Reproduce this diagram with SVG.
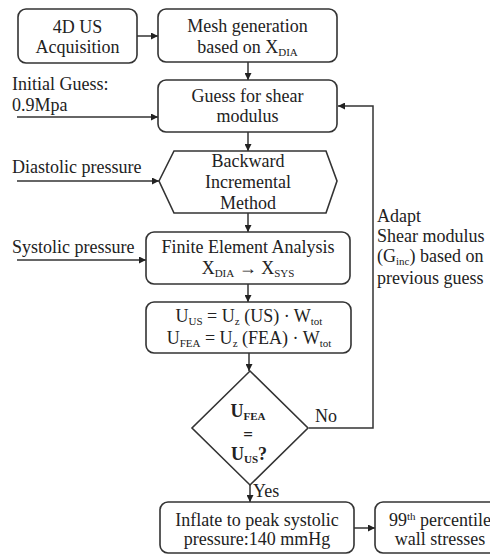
<svg xmlns="http://www.w3.org/2000/svg" width="490" height="554" viewBox="0 0 490 554">
<defs>
<marker id="ah" viewBox="0 0 8 8" refX="8" refY="4" markerWidth="7" markerHeight="7" markerUnits="userSpaceOnUse" orient="auto">
<path d="M0,0 L8,4 L0,8 z" fill="#222"/>
</marker>
<style>
.box{fill:#fff;stroke:#333;stroke-width:1.6}
.ln{fill:none;stroke:#333;stroke-width:1.5;marker-end:url(#ah)}
text{font-family:"Liberation Serif","Times New Roman",serif;font-size:18px;fill:#222}
.c{text-anchor:middle}
.s{font-size:11px}
.b{font-weight:bold}
</style>
</defs>
<rect width="490" height="554" fill="#fff"/>

<g id="connectors">
<path class="ln" d="M137,36 L158,36"/>
<path class="ln" d="M248,62 L248,80"/>
<path class="ln" d="M17,117 L158,117"/>
<path class="ln" d="M248,132 L248,151"/>
<path class="ln" d="M17,181 L159,181"/>
<path class="ln" d="M248,213 L248,232"/>
<path class="ln" d="M17,260 L146,260"/>
<path class="ln" d="M248,284 L248,302"/>
<path class="ln" d="M249,353 L249,371"/>
<path class="ln" d="M309,428 L373,428 L373,106 L338,106"/>
<path class="ln" d="M250,485 L250,502"/>
<path class="ln" d="M354,528 L375,528"/>
</g>

<g id="n-acq">
<rect class="box" x="18" y="9" width="119" height="54" rx="8"/>
<text class="c" x="77.5" y="33">4D US</text>
<text class="c" x="77.5" y="53">Acquisition</text>
</g>

<g id="n-mesh">
<rect class="box" x="158" y="9" width="179" height="53" rx="8"/>
<text class="c" x="247.5" y="32">Mesh generation</text>
<text class="c" x="247.5" y="53">based on X<tspan class="s" dy="3">DIA</tspan></text>
</g>

<g id="n-guess">
<rect class="box" x="158" y="80" width="179" height="52" rx="8"/>
<text class="c" x="247.5" y="102">Guess for shear</text>
<text class="c" x="247.5" y="122">modulus</text>
</g>

<g id="lbl-initial">
<text x="12" y="90">Initial Guess:</text>
<text x="12" y="111">0.9Mpa</text>
</g>

<g id="n-bim">
<path class="box" d="M159,181 L174,151 L326,151 L337,181 L326,213 L174,213 Z"/>
<text class="c" x="248" y="167">Backward</text>
<text class="c" x="248" y="188">Incremental</text>
<text class="c" x="248" y="209">Method</text>
</g>

<g id="lbl-dia">
<text x="12" y="173">Diastolic pressure</text>
</g>

<g id="n-fea">
<rect class="box" x="146" y="232" width="204" height="52" rx="8"/>
<text class="c" x="248" y="253">Finite Element Analysis</text>
<text class="c" x="248" y="274">X<tspan class="s" dy="3">DIA</tspan><tspan dy="-3"> → X</tspan><tspan class="s" dy="3">SYS</tspan></text>
</g>

<g id="lbl-sys">
<text x="12" y="253">Systolic pressure</text>
</g>

<g id="n-u">
<rect class="box" x="146" y="302" width="205" height="51" rx="8"/>
<text class="c" x="249" y="322">U<tspan class="s" dy="3">US</tspan><tspan dy="-3"> = U</tspan><tspan class="s" dy="3">z</tspan><tspan dy="-3"> (US) · W</tspan><tspan class="s" dy="3">tot</tspan></text>
<text class="c" x="249" y="344">U<tspan class="s" dy="3">FEA</tspan><tspan dy="-3"> = U</tspan><tspan class="s" dy="3">z</tspan><tspan dy="-3"> (FEA) · W</tspan><tspan class="s" dy="3">tot</tspan></text>
</g>

<g id="n-dec">
<path class="box" d="M250,371 L308,428 L250,485 L192,428 Z"/>
<text class="c b" x="248" y="417">U<tspan class="s" dy="3">FEA</tspan></text>
<text class="c b" x="248" y="440" style="font-size:17px">=</text>
<text class="c b" x="249" y="460">U<tspan class="s" dy="3">US</tspan><tspan dy="-3">?</tspan></text>
</g>

<g id="lbl-no"><text x="315" y="422">No</text></g>
<g id="lbl-yes"><text x="253" y="497">Yes</text></g>

<g id="lbl-adapt">
<text x="377" y="222">Adapt</text>
<text x="377" y="242">Shear modulus</text>
<text x="377" y="262">(G<tspan class="s" dy="3">inc</tspan><tspan dy="-3">) based on</tspan></text>
<text x="377" y="284">previous guess</text>
</g>

<g id="n-inflate">
<rect class="box" x="160" y="502" width="194" height="51" rx="8"/>
<text class="c" x="257" y="526">Inflate to peak systolic</text>
<text class="c" x="257" y="545">pressure:140 mmHg</text>
</g>

<g id="n-stress">
<rect class="box" x="375" y="502" width="130" height="51" rx="8"/>
<text class="c" x="440" y="526">99<tspan class="s" dy="-6">th</tspan><tspan dy="6"> percentile</tspan></text>
<text class="c" x="440" y="545">wall stresses</text>
</g>
</svg>
